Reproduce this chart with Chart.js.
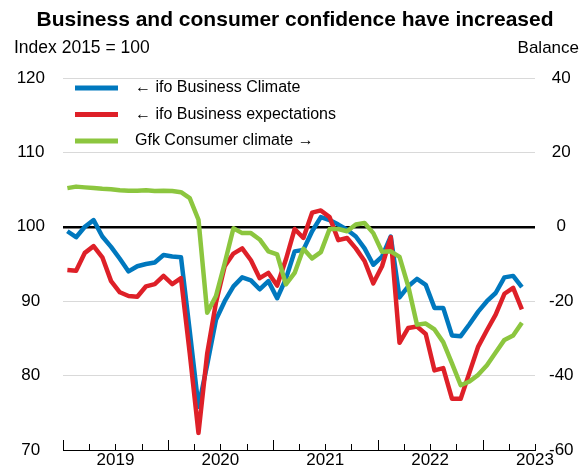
<!DOCTYPE html>
<html><head><meta charset="utf-8">
<script src="https://cdn.jsdelivr.net/npm/chart.js@4.4.1/dist/chart.umd.min.js"></script>
<style>html,body{margin:0;padding:0;background:#fff}#wrap{width:585px;height:472px}</style>
</head><body><div id="wrap"><canvas id="c" width="585" height="472"></canvas></div>
<script>
// Monthly observations, Jan 2019 .. May 2023
const months = [
 '2019-01','2019-02','2019-03','2019-04','2019-05','2019-06','2019-07','2019-08','2019-09','2019-10','2019-11','2019-12',
 '2020-01','2020-02','2020-03','2020-04','2020-05','2020-06','2020-07','2020-08','2020-09','2020-10','2020-11','2020-12',
 '2021-01','2021-02','2021-03','2021-04','2021-05','2021-06','2021-07','2021-08','2021-09','2021-10','2021-11','2021-12',
 '2022-01','2022-02','2022-03','2022-04','2022-05','2022-06','2022-07','2022-08','2022-09','2022-10','2022-11','2022-12',
 '2023-01','2023-02','2023-03','2023-04','2023-05'];
const yearLabels = ['2019','2020','2021','2022','2023'];
const seriesNames = ['\u2190 ifo Business Climate','\u2190 ifo Business expectations','Gfk Consumer climate \u2192'];
const ifoClimate = [
 99.4, 98.6, 100.0, 100.9, 98.7, 97.3, 95.7, 94.0, 94.7, 95.0, 95.2, 96.2,
 96.0, 95.9, 86.0, 75.8, 81.5, 87.5, 90.0, 92.0, 93.2, 92.8, 91.6, 92.7,
 90.4, 93.0, 96.7, 96.9, 99.4, 101.3, 100.9, 100.3, 99.6, 98.7, 97.1, 94.9,
 96.0, 98.7, 90.5, 92.0, 93.0, 92.2, 89.1, 89.1, 85.4, 85.3, 86.9, 88.6,
 90.0, 91.1, 93.2, 93.4, 91.9];
const ifoExpect = [
 94.2, 94.1, 96.5, 97.4, 95.9, 92.7, 91.2, 90.7, 90.6, 92.0, 92.3, 93.4,
 92.3, 93.1, 83.0, 72.3, 83.0, 89.8, 94.7, 96.4, 97.1, 95.5, 93.1, 93.8,
 92.1, 95.6, 99.7, 98.5, 101.9, 102.2, 101.3, 98.2, 98.5, 97.1, 95.4, 92.4,
 94.7, 98.6, 84.4, 86.4, 86.6, 85.6, 80.7, 81.0, 76.9, 76.9, 80.4, 83.9,
 86.1, 88.2, 91.0, 91.8, 88.9];
const gfkClimate = [
 10.4, 10.8, 10.6, 10.4, 10.2, 10.1, 9.8, 9.7, 9.7, 9.8, 9.6, 9.7,
 9.6, 9.3, 7.7, 1.9, -23.1, -18.6, -9.8, -0.4, -1.7, -1.7, -3.4, -6.6,
 -7.4, -15.5, -12.4, -5.9, -8.5, -6.8, -0.6, -0.6, -1.2, 0.6, 1.0, -1.7,
 -6.7, -6.6, -8.1, -16.0, -26.3, -26.0, -27.6, -31.0, -36.7, -42.6, -41.6, -39.8,
 -37.2, -33.8, -30.4, -29.2, -25.8];
const leftTicks = [70, 80, 90, 100, 110, 120];
const rightTicks = [-60, -40, -20, 0, 20, 40];

const FONT = '"Liberation Sans", Arial, sans-serif';
const COLORS = ['rgb(0,120,190)', 'rgb(222,32,40)', 'rgb(140,198,63)'];

function pts(arr){ return arr.map((v,i)=>({x:i+0.5, y:v})); }

const decor = {
  id:'decor',
  afterDraw(chart){
    const ctx = chart.ctx, ca = chart.chartArea, xs = chart.scales.x;
    ctx.save();
    ctx.fillStyle = '#000';
    ctx.textBaseline = 'middle';
    ctx.font = 'bold 21px ' + FONT;
    ctx.textAlign = 'center';
    ctx.fillText('Business and consumer confidence have increased', 295, 20);
    ctx.font = '17.5px ' + FONT;
    ctx.textAlign = 'left';
    ctx.fillText('Index 2015 = 100', 14, 48);
    ctx.font = '17px ' + FONT;
    ctx.textAlign = 'right';
    ctx.fillText('Balance', 579, 48);
    // x-axis tick marks pointing up
    ctx.strokeStyle = '#000'; ctx.lineWidth = 1;
    for (let m = 0; m <= months.length + 1; m += 3){
      const px = Math.round(xs.getPixelForValue(m)) + 0.5;
      const h = (m % 12 === 0) ? 10 : 6;
      ctx.beginPath(); ctx.moveTo(px, ca.bottom); ctx.lineTo(px, ca.bottom - h); ctx.stroke();
    }
    // legend
    ctx.font = '16px ' + FONT;
    ctx.textAlign = 'left';
    chart.data.datasets.forEach((ds, i) => {
      const y = 88 + i * 26.5;
      ctx.strokeStyle = ds.borderColor; ctx.lineWidth = 5;
      ctx.beginPath(); ctx.moveTo(75, y); ctx.lineTo(118, y); ctx.stroke();
      ctx.fillStyle = '#000';
      ctx.fillText(ds.label, 135, y);
    });
    ctx.restore();
  }
};

function fixV(w){ return (s) => { s.width = w; s.paddingTop = 0; s.paddingBottom = 0; }; }

new Chart(document.getElementById('c'), {
  type: 'line',
  data: {
    datasets: [
      {label: seriesNames[0], data: pts(ifoClimate), yAxisID: 'y', borderColor: COLORS[0], order: 2},
      {label: seriesNames[1], data: pts(ifoExpect), yAxisID: 'y', borderColor: COLORS[1], order: 1},
      {label: seriesNames[2], data: pts(gfkClimate), yAxisID: 'y1', borderColor: COLORS[2], order: 0}
    ]
  },
  options: {
    responsive: false, animation: false, devicePixelRatio: 1,
    layout: {padding: {top: 78, left: 0, right: 0, bottom: 0}},
    elements: {
      point: {radius: 0},
      line: {borderWidth: 4.5, tension: 0, borderJoinStyle: 'round', borderCapStyle: 'butt', fill: false}
    },
    plugins: {legend: {display: false}, title: {display: false}, tooltip: {enabled: false}},
    scales: {
      x: {
        type: 'linear', min: 0, max: months.length + 1,
        grid: {display: false, drawTicks: false},
        border: {display: true, color: '#000', width: 1},
        afterBuildTicks: (s) => { s.ticks = yearLabels.map((_, k) => ({value: 6 + 12 * k})); },
        afterFit: (s) => { s.height = 22; s.paddingLeft = 0; s.paddingRight = 0; },
        ticks: {
          autoSkip: false, maxRotation: 0, padding: 0, color: '#000',
          font: {family: FONT, size: 17},
          callback: (v) => yearLabels[Math.round((v - 6) / 12)]
        }
      },
      y: {
        position: 'left', min: 70, max: 120,
        afterBuildTicks: (s) => { s.ticks = leftTicks.map(v => ({value: v})); },
        afterFit: fixV(63),
        border: {display: false},
        grid: {
          drawTicks: false,
          color: (c) => c.tick.value === 100 ? '#000' : (c.tick.value === 70 ? 'rgba(0,0,0,0)' : '#d9d9d9'),
          lineWidth: (c) => c.tick.value === 100 ? 2.5 : 1
        },
        ticks: {padding: 18, crossAlign: 'center', color: '#000', font: {family: FONT, size: 17}}
      },
      y1: {
        position: 'right', min: -60, max: 40,
        afterBuildTicks: (s) => { s.ticks = rightTicks.map(v => ({value: v})); },
        afterFit: fixV(50),
        border: {display: false},
        grid: {drawOnChartArea: false, drawTicks: false},
        ticks: {padding: 14, crossAlign: 'center', color: '#000', font: {family: FONT, size: 17}}
      }
    }
  },
  plugins: [decor]
});
</script>
</body></html>
